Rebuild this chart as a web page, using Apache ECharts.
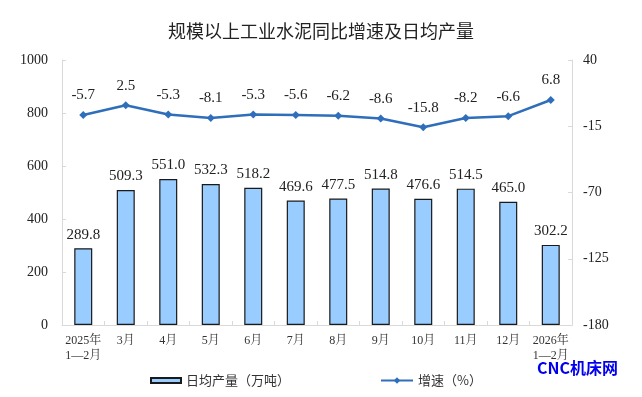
<!DOCTYPE html>
<html><head><meta charset="utf-8">
<script src="https://cdn.jsdelivr.net/npm/echarts@6/dist/echarts.min.js"></script>
<style>html,body{margin:0;padding:0;background:#fff}#c{width:642px;height:397px}</style>
</head><body><div id="c"></div>
<script>
const categories = ['2025年\n1—2月','3月','4月','5月','6月','7月','8月','9月','10月','11月','12月','2026年\n1—2月'];
const output = [289.8, 509.3, 551.0, 532.3, 518.2, 469.6, 477.5, 514.8, 476.6, 514.5, 465.0, 302.2];
const growth = [-5.7, 2.5, -5.3, -8.1, -5.3, -5.6, -6.2, -8.6, -15.8, -8.2, -6.6, 6.8];
const leftTicks = {min: 0, max: 1000, interval: 200};
const rightTicks = {min: -180, max: 40, interval: 55};

const serif = '"Liberation Serif","Times New Roman","Noto Serif CJK SC","Noto Sans CJK SC",serif';
const cjk = '"Noto Sans CJK SC",sans-serif';
const legendText = {fontFamily: cjk, fontSize: 13, color: '#333'};
const chart = echarts.init(document.getElementById('c'));
chart.setOption({
  animation: false,
  title: {text: '规模以上工业水泥同比增速及日均产量', left: 'center', top: 17,
    textStyle: {fontFamily: cjk, fontSize: 18, fontWeight: 'normal', color: '#222'}},
  grid: {left: 62, right: 70, top: 60, bottom: 72},
  legend: [
    {left: 145, top: 369, itemWidth: 30, itemHeight: 5, itemGap: 2, textStyle: legendText,
      data: [{name: '日均产量（万吨）', icon: 'rect'}]},
    {left: 375, top: 369, itemWidth: 32, itemHeight: 8, textStyle: legendText,
      data: [{name: '增速（%）'}]}
  ],
  xAxis: {type: 'category', data: categories,
    axisLine: {lineStyle: {color: '#d9d9d9'}},
    axisTick: {show: true, inside: true, length: 4, lineStyle: {color: '#d9d9d9'}},
    axisLabel: {interval: 0, fontFamily: serif, fontSize: 12, color: '#333', lineHeight: 15, margin: 8}},
  yAxis: [
    {type: 'value', min: leftTicks.min, max: leftTicks.max, interval: leftTicks.interval,
      axisLine: {show: true, lineStyle: {color: '#d9d9d9'}},
      axisTick: {show: true, inside: true, length: 4, lineStyle: {color: '#d9d9d9'}},
      splitLine: {show: false},
      axisLabel: {fontFamily: serif, fontSize: 14, color: '#222', margin: 14, formatter: v => String(v)}},
    {type: 'value', min: rightTicks.min, max: rightTicks.max, interval: rightTicks.interval,
      position: 'right',
      axisLine: {show: true, lineStyle: {color: '#d9d9d9'}},
      axisTick: {show: true, inside: true, length: 4, lineStyle: {color: '#d9d9d9'}},
      splitLine: {show: false},
      axisLabel: {fontFamily: serif, fontSize: 14, color: '#222', margin: 11, formatter: v => String(v)}}
  ],
  series: [
    {name: '日均产量（万吨）', type: 'bar', data: output, barWidth: 18, yAxisIndex: 0,
      itemStyle: {color: '#99CCFF', borderColor: '#1a1a1a', borderWidth: 1.2},
      label: {show: true, position: 'top', distance: 6, formatter: p => p.value.toFixed(1),
        fontFamily: serif, fontSize: 15, color: '#222'}},
    {name: '增速（%）', type: 'line', data: growth, yAxisIndex: 1,
      symbol: 'diamond', symbolSize: 8,
      lineStyle: {color: '#2F6EBA', width: 2.5},
      itemStyle: {color: '#2F6EBA'},
      label: {show: true, position: 'top', distance: 8, formatter: p => p.value.toFixed(1),
        fontFamily: serif, fontSize: 15, color: '#222'}}
  ],
  graphic: [{type: 'text', left: 537, top: 360,
    style: {text: 'CNC机床网', fill: '#0000ee', font: 'bold 16px "Noto Sans CJK SC",sans-serif'}}]
});
</script></body></html>
